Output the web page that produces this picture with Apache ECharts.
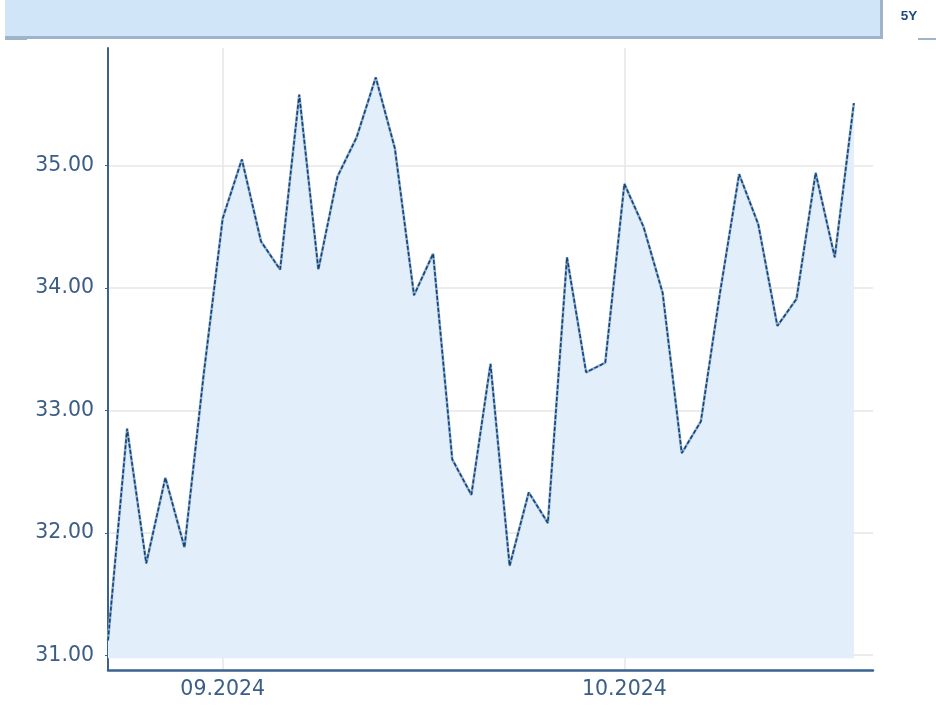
<!DOCTYPE html>
<html>
<head>
<meta charset="utf-8">
<script src="https://cdn.jsdelivr.net/npm/echarts@6/dist/echarts.min.js"></script>
<style>
  html, body { margin: 0; padding: 0; background: #ffffff; }
  #chart { width: 936px; height: 713px; }
</style>
</head>
<body>
<div id="chart"></div>
<script>
// Trading days (x categories); the last one has no value yet
const dates = [
  '2024-08-23','2024-08-26','2024-08-27','2024-08-28','2024-08-29','2024-08-30',
  '2024-09-02','2024-09-03','2024-09-04','2024-09-05','2024-09-06',
  '2024-09-09','2024-09-10','2024-09-11','2024-09-12','2024-09-13',
  '2024-09-16','2024-09-17','2024-09-18','2024-09-19','2024-09-20',
  '2024-09-23','2024-09-24','2024-09-25','2024-09-26','2024-09-27',
  '2024-09-30',
  '2024-10-01','2024-10-02','2024-10-03','2024-10-04',
  '2024-10-07','2024-10-08','2024-10-09','2024-10-10','2024-10-11',
  '2024-10-14','2024-10-15','2024-10-16','2024-10-17','2024-10-18'
];
// Price values
const prices = [
  31.12, 32.85, 31.75, 32.45, 31.88, 33.29,
  34.57, 35.05, 34.38, 34.15, 35.58,
  34.15, 34.91, 35.23, 35.72, 35.14,
  33.94, 34.28, 32.60, 32.31, 33.38,
  31.73, 32.33, 32.08, 34.25, 33.31,
  33.39,
  34.85, 34.50, 33.96, 32.65,
  32.91, 33.96, 34.93, 34.52, 33.69,
  33.91, 34.94, 34.25, 35.51, null
];
// Month tick labels (shown at the first trading day of each month)
const monthTicks = ['09.2024', '10.2024'];
const rangeButtons = ['5Y'];

function monthLabel(d) { return d.slice(5, 7) + '.' + d.slice(0, 4); }
function isMonthStart(idx) {
  if (idx === 0) return false;
  const lbl = monthLabel(dates[idx]);
  return dates[idx].slice(0, 7) !== dates[idx - 1].slice(0, 7) && monthTicks.indexOf(lbl) >= 0;
}

const labelColor = '#3b5d86';
const chart = echarts.init(document.getElementById('chart'), null, { renderer: 'canvas' });
chart.setOption({
  animation: false,
  backgroundColor: '#ffffff',
  grid: { left: 108, right: 63, top: 48, bottom: 43, containLabel: false },
  xAxis: {
    type: 'category',
    data: dates,
    boundaryGap: false,
    axisLine: { show: true, lineStyle: { color: '#3a6190', width: 2.5 } },
    axisTick: { show: false },
    axisLabel: {
      interval: (idx) => isMonthStart(idx),
      formatter: (v) => monthLabel(v),
      color: labelColor,
      fontFamily: 'DejaVu Sans',
      fontSize: 20.5,
      margin: 9
    },
    splitLine: {
      show: true,
      interval: (idx) => isMonthStart(idx),
      lineStyle: { color: '#e6e6e6', width: 1.5 }
    }
  },
  yAxis: {
    type: 'value',
    min: 30.879,
    max: 35.96,
    splitNumber: 5,
    axisLine: { show: true, lineStyle: { color: '#3a6190', width: 2 } },
    axisTick: { show: true, length: 3, lineStyle: { color: '#3a6190' } },
    axisLabel: {
      showMinLabel: false,
      showMaxLabel: false,
      formatter: (v) => v.toFixed(2),
      color: labelColor,
      fontFamily: 'DejaVu Sans',
      fontSize: 20.5,
      margin: 14
    },
    splitLine: {
      show: true,
      showMinLine: false,
      showMaxLine: false,
      lineStyle: { color: '#e6e6e6', width: 1.5 }
    }
  },
  series: [
    {
      type: 'line',
      data: prices,
      symbol: 'none',
      lineStyle: { color: '#8fb0d2', width: 2.6 },
      areaStyle: { color: '#e2eef9', opacity: 1, origin: 30.975 },
      z: 2
    },
    {
      type: 'line',
      data: prices,
      symbol: 'none',
      lineStyle: { color: '#174272', width: 1.6, type: [4, 2] },
      z: 3
    }
  ],
  graphic: [
    { type: 'rect', left: 5, top: 0, shape: { width: 876, height: 37 }, style: { fill: '#d0e5f8' }, z: 10 },
    { type: 'rect', left: 5, top: 36, shape: { width: 878, height: 3 }, style: { fill: '#9fb4c9' }, z: 11 },
    { type: 'rect', left: 880, top: 0, shape: { width: 3, height: 39 }, style: { fill: '#9fb4c9' }, z: 11 },
    { type: 'rect', left: 5, top: 38, shape: { width: 22, height: 2 }, style: { fill: '#9fb4c9' }, z: 11 },
    { type: 'rect', left: 918, top: 38, shape: { width: 18, height: 2 }, style: { fill: '#9fb4c9' }, z: 11 },
    {
      type: 'text', x: 909, y: 16, z: 12,
      style: {
        text: rangeButtons[0], fill: '#1b4a7c',
        font: 'bold 13.5px "Liberation Sans"', textAlign: 'center', textVerticalAlign: 'middle'
      }
    }
  ]
});
</script>
</body>
</html>
